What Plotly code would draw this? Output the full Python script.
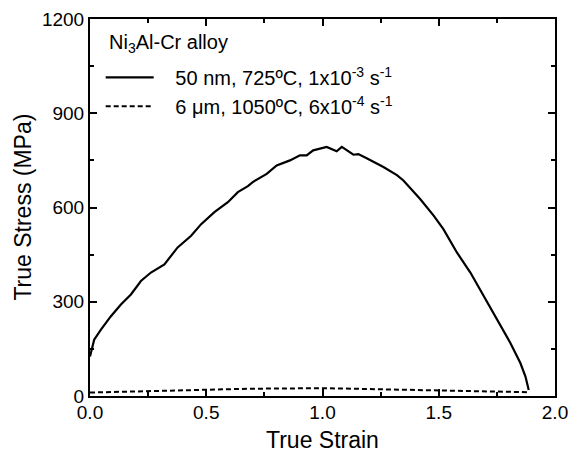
import plotly.graph_objects as go

# 50 nm grain size, 725 C, 1e-3 /s
strain_nano = [0, 0.018, 0.047, 0.09, 0.133, 0.176, 0.219, 0.262, 0.32, 0.377, 0.435,
               0.478, 0.535, 0.593, 0.636, 0.679, 0.70, 0.76, 0.803, 0.86, 0.903, 0.932,
               0.96, 1.018, 1.061, 1.083, 1.133, 1.154, 1.19, 1.262, 1.32, 1.348, 1.42,
               1.478, 1.52, 1.578, 1.636, 1.693, 1.75, 1.808, 1.851, 1.873, 1.887]
stress_nano = [126, 179, 211, 254, 291, 323, 366, 393, 419, 473, 510,
               547, 585, 617, 649, 668, 681, 707, 734, 750, 766, 766,
               782, 793, 779, 793, 768, 770, 757, 729, 703, 686, 627,
               574, 531, 457, 393, 318, 243, 169, 105, 62, 19]

# 6 um grain size, 1050 C, 6e-4 /s
strain_micro = [0, 0.3, 0.68, 1.0, 1.3, 1.6, 1.85, 1.89]
stress_micro = [11, 17, 23, 25, 21, 17, 13, 12]

x_ticks = [0.0, 0.5, 1.0, 1.5, 2.0]
y_ticks = [0, 300, 600, 900, 1200]

pad = '\u00a0\u00a0\u00a0'

fig = go.Figure()
fig.add_trace(go.Scatter(x=strain_nano, y=stress_nano, mode='lines', legendgroup='a',
                         line=dict(color='black', width=2.2),
                         name=pad + '50 nm, 725\u00baC, 1x10<sup>-3</sup> s<sup>-1</sup>'))
fig.add_trace(go.Scatter(x=strain_micro, y=stress_micro, mode='lines', legendgroup='b',
                         line=dict(color='black', width=2, dash='5px,3px'),
                         name=pad + '6 \u03bcm, 1050\u00baC, 6x10<sup>-4</sup> s<sup>-1</sup>'))

axis_common = dict(showline=True, linecolor='black', linewidth=2, mirror='ticks',
                   ticks='inside', ticklen=7, tickwidth=1.5, tickcolor='black',
                   showgrid=False, zeroline=False, automargin=False,
                   tickfont=dict(size=19, color='black'),
                   minor=dict(ticks='inside', ticklen=4, tickcolor='black'))

fig.update_xaxes(axis_common, range=[0, 2], tickvals=x_ticks,
                 ticktext=['%.1f' % v for v in x_ticks], ticklabelstandoff=-2)
fig.update_xaxes(minor=dict(dtick=0.25))
fig.update_yaxes(axis_common, range=[0, 1200], tickvals=y_ticks)
fig.update_yaxes(minor=dict(dtick=150))

# axis titles and legend heading as annotations
fig.add_annotation(text='True Strain', xref='paper', yref='paper', x=0.5, y=-0.117,
                   xanchor='center', yanchor='middle', showarrow=False,
                   font=dict(size=23, color='black'))
fig.add_annotation(text='True Stress (MPa)', xref='paper', yref='paper', x=-0.146, y=0.5,
                   xanchor='center', yanchor='middle', showarrow=False, textangle=-90,
                   font=dict(size=23, color='black'))
fig.add_annotation(text='Ni<sub>3</sub>Al-Cr alloy', xref='paper', yref='paper',
                   x=0.036, y=0.936, xanchor='left', yanchor='middle', showarrow=False,
                   font=dict(size=20, color='black'))

fig.update_layout(
    width=571, height=453,
    margin=dict(l=90, r=16, t=19, b=57),
    paper_bgcolor='white', plot_bgcolor='white',
    font=dict(family='Liberation Sans, Arial, sans-serif', color='black'),
    showlegend=True,
    legend=dict(x=0.023, y=0.897, xanchor='left', yanchor='top',
                bgcolor='rgba(0,0,0,0)', font=dict(size=20),
                itemwidth=48, tracegroupgap=0),
)

# drop the browser's default body margin so the figure fills the window
fig.write_html("out.html", config={'displayModeBar': False},
               post_script="document.body.style.margin = '0px';")
